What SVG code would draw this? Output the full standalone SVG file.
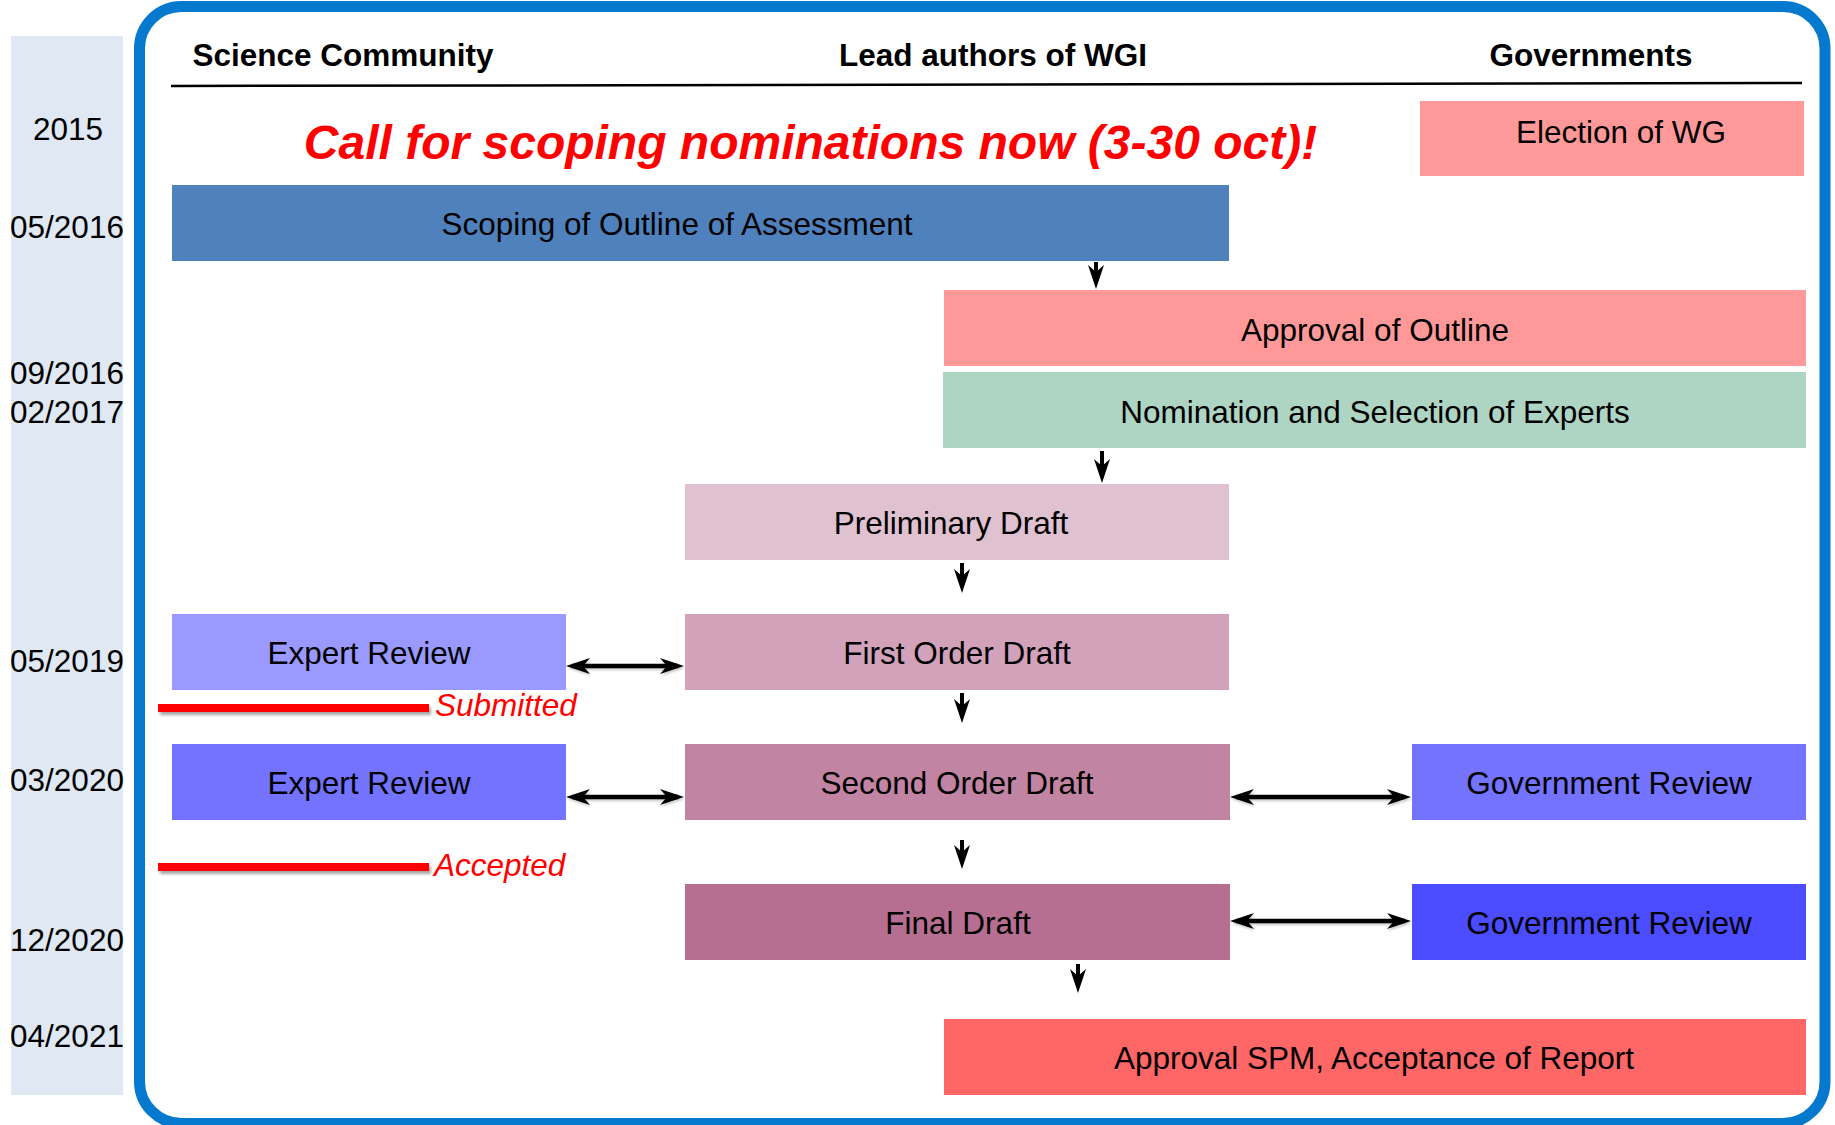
<svg xmlns="http://www.w3.org/2000/svg" width="1835" height="1125" viewBox="0 0 1835 1125">
<style>
text{font-family:"Liberation Sans",Arial,sans-serif;fill:#000}
.hdr{font-size:31.5px;font-weight:bold;text-anchor:middle}
.date{font-size:31.5px;text-anchor:middle}
.lbl{font-size:31.5px;text-anchor:middle}
.note{font-size:31.5px;font-style:italic;fill:#FF0000}
.conn{stroke:#000;stroke-width:4;fill:none;marker-end:url(#ah)}
.dbl{stroke:#000;stroke-width:4.5;fill:none;marker-start:url(#ah);marker-end:url(#ah);filter:url(#sh2)}
.red{stroke:#FF0000;stroke-width:8;filter:url(#sh)}
</style>
<defs>
<marker id="ah" viewBox="0 0 24 18" markerWidth="24" markerHeight="18" refX="18" refY="9" orient="auto-start-reverse" markerUnits="userSpaceOnUse">
<path d="M0,1 L24,9 L0,17 L7,9 Z" fill="#000"/>
</marker>
<filter id="sh" filterUnits="userSpaceOnUse" x="0" y="0" width="1835" height="1125">
<feDropShadow dx="2" dy="3" stdDeviation="1.5" flood-color="#000" flood-opacity="0.35"/>
</filter>
<filter id="sh2" filterUnits="userSpaceOnUse" x="0" y="0" width="1835" height="1125">
<feDropShadow dx="1" dy="2" stdDeviation="1" flood-color="#000" flood-opacity="0.2"/>
</filter>
</defs>
<rect width="1835" height="1125" fill="#FFFFFF"/>

<g id="date-column">
<rect x="11" y="36" width="112" height="1059" fill="#DFE8F3"/>
<text class="date" x="68" y="140">2015</text>
<text class="date" x="67" y="238">05/2016</text>
<text class="date" x="67" y="384">09/2016</text>
<text class="date" x="67" y="423">02/2017</text>
<text class="date" x="67" y="672">05/2019</text>
<text class="date" x="67" y="791">03/2020</text>
<text class="date" x="67" y="951">12/2020</text>
<text class="date" x="67" y="1047">04/2021</text>
</g>

<g id="frame">
<rect x="139.5" y="6.5" width="1685.5" height="1117" rx="42" ry="42" fill="none" stroke="#0579CE" stroke-width="11"/>
</g>

<g id="headers">
<text class="hdr" x="343" y="66">Science Community</text>
<text class="hdr" x="993" y="66">Lead authors of WGI</text>
<text class="hdr" x="1591" y="66">Governments</text>
<line x1="171" y1="86" x2="1802" y2="83" stroke="#000" stroke-width="2.5"/>
</g>

<g id="call">
<text x="810.5" y="159" font-size="48" font-weight="bold" font-style="italic" text-anchor="middle" style="fill:#FF0000">Call for scoping nominations now (3-30 oct)!</text>
</g>

<g id="election">
<rect x="1420" y="101" width="384" height="75" fill="#FF9999"/>
<text class="lbl" x="1621" y="143">Election of WG</text>
</g>

<g id="scoping">
<rect x="172" y="185" width="1057" height="76" fill="#4F81BD"/>
<text class="lbl" x="677" y="235">Scoping of Outline of Assessment</text>
</g>

<g id="approval-outline">
<rect x="944" y="290" width="862" height="76" fill="#FF9999"/>
<text class="lbl" x="1375" y="341">Approval of Outline</text>
</g>

<g id="nomination">
<rect x="943" y="372" width="863" height="76" fill="#AED5C3"/>
<text class="lbl" x="1375" y="423">Nomination and Selection of Experts</text>
</g>

<g id="preliminary">
<rect x="685" y="484" width="544" height="76" fill="#E0C1D0"/>
<text class="lbl" x="951" y="534">Preliminary Draft</text>
</g>

<g id="first-order">
<rect x="685" y="614" width="544" height="76" fill="#D2A2BB"/>
<text class="lbl" x="957" y="664">First Order Draft</text>
</g>

<g id="expert-review-1">
<rect x="172" y="614" width="394" height="76" fill="#9999FF"/>
<text class="lbl" x="369" y="664">Expert Review</text>
</g>

<g id="submitted">
<line class="red" x1="158" y1="708" x2="429" y2="708"/>
<text class="note" x="435" y="716">Submitted</text>
</g>

<g id="second-order">
<rect x="685" y="744" width="545" height="76" fill="#C284A3"/>
<text class="lbl" x="957" y="794">Second Order Draft</text>
</g>

<g id="expert-review-2">
<rect x="172" y="744" width="394" height="76" fill="#7373FF"/>
<text class="lbl" x="369" y="794">Expert Review</text>
</g>

<g id="gov-review-1">
<rect x="1412" y="744" width="394" height="76" fill="#7373FF"/>
<text class="lbl" x="1609" y="794">Government Review</text>
</g>

<g id="accepted">
<line class="red" x1="158" y1="867" x2="429" y2="867"/>
<text class="note" x="434" y="876">Accepted</text>
</g>

<g id="final-draft">
<rect x="685" y="884" width="545" height="76" fill="#B76F91"/>
<text class="lbl" x="958" y="934">Final Draft</text>
</g>

<g id="gov-review-2">
<rect x="1412" y="884" width="394" height="76" fill="#4B4BFF"/>
<text class="lbl" x="1609" y="934">Government Review</text>
</g>

<g id="approval-spm">
<rect x="944" y="1019" width="862" height="76" fill="#FF6666"/>
<text class="lbl" x="1374" y="1069">Approval SPM, Acceptance of Report</text>
</g>

<g id="connectors">
<line class="conn" x1="1096" y1="262" x2="1096" y2="283"/>
<line class="conn" x1="1102" y1="451" x2="1102" y2="477"/>
<line class="conn" x1="962" y1="563" x2="962" y2="587"/>
<line class="conn" x1="962" y1="693" x2="962" y2="717"/>
<line class="conn" x1="962" y1="840" x2="962" y2="863"/>
<line class="conn" x1="1078" y1="964" x2="1078" y2="987"/>
<line class="dbl" x1="572" y1="666" x2="678" y2="666"/>
<line class="dbl" x1="572" y1="797" x2="678" y2="797"/>
<line class="dbl" x1="1236" y1="797" x2="1405" y2="797"/>
<line class="dbl" x1="1236" y1="921" x2="1405" y2="921"/>
</g>
</svg>
